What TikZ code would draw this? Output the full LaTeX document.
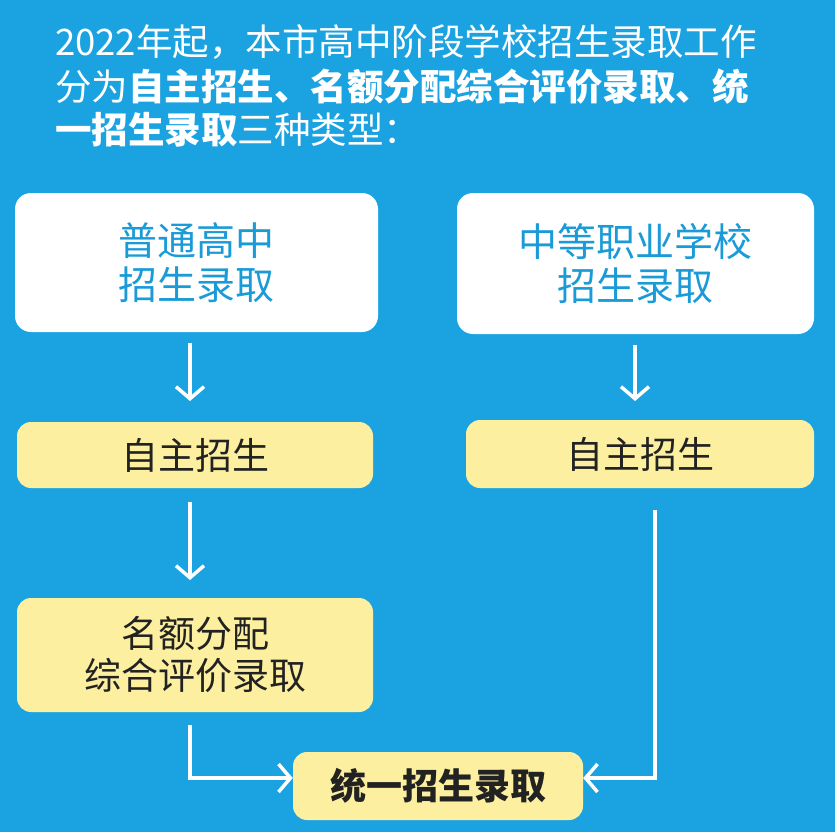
\documentclass[tikz,border=0pt]{standalone}
\usepackage{fontspec}
\setmainfont{Noto Sans CJK SC}
\usetikzlibrary{arrows.meta}
\definecolor{bg}{HTML}{1BA3E1}
\definecolor{yel}{HTML}{FCEFA0}
\definecolor{txtblue}{HTML}{1A9BD8}
\definecolor{dark}{HTML}{222222}
\begin{document}
\begin{tikzpicture}[x=1pt,y=-1pt,
  wbox/.style={fill=white,rounded corners=16pt,text=txtblue,font=\fontsize{39}{48}\selectfont,align=center},
  ybox/.style={fill=yel,rounded corners=14pt,text=dark,font=\fontsize{37}{46}\selectfont,align=center},
  conn/.style={white,line width=3.5pt,-{Straight Barb[length=12pt,width=28pt,line width=3.5pt]}}]
\fill[bg] (0,0) rectangle (835,832);
\useasboundingbox (0,0) rectangle (835,832);
\begin{scope}[every node/.style={text=white,anchor=west,font=\fontsize{36.5}{40}\selectfont,inner sep=0}]
\node (t1) at (55,42) {2022年起，本市高中阶段学校招生录取工作};
\node (t2) at (55,87) {分为\textbf{自主招生、名额分配综合评价录取、统}};
\node (t3) at (55,130) {\textbf{一招生录取}三种类型：};
\end{scope}
\node[wbox,minimum width=363pt,minimum height=139pt] (w1) at (196.5,262.5) {普通高中\\[-4pt]招生录取};
\node[wbox,minimum width=357pt,minimum height=141pt] (w2) at (635.5,263.5) {中等职业学校\\[-4pt]招生录取};
\node[ybox,minimum width=356pt,minimum height=66pt] (y1) at (195,455) {自主招生};
\node[ybox,minimum width=348pt,minimum height=68pt] (y2) at (640,454) {自主招生};
\node[ybox,minimum width=356pt,minimum height=114pt] (y3) at (195,655) {名额分配\\[-4pt]综合评价录取};
\node[ybox,minimum width=290pt,minimum height=68pt,font=\fontsize{36}{46}\selectfont\bfseries] (y4) at (438,786) {统一招生录取};
\coordinate (a1s) at (190,343); \coordinate (a1e) at (190,401);
\coordinate (a2s) at (190,502); \coordinate (a2e) at (190,580);
\draw[conn] (a1s) -- (a1e);
\draw[conn] (a2s) -- (a2e);
\coordinate (a3s) at (190,725); \coordinate (a3c) at (190,778);
\draw[conn] (a3s) -- (a3c) -- (y4.west |- a3c);
\coordinate (a4s) at (655,510); \coordinate (a4c) at (655,778);
\draw[conn] (a4s) -- (a4c) -- (y4.east |- a4c);
\coordinate (a5s) at (635,345); \coordinate (a5e) at (635,401);
\draw[conn] (a5s) -- (a5e);
\end{tikzpicture}
\end{document}
